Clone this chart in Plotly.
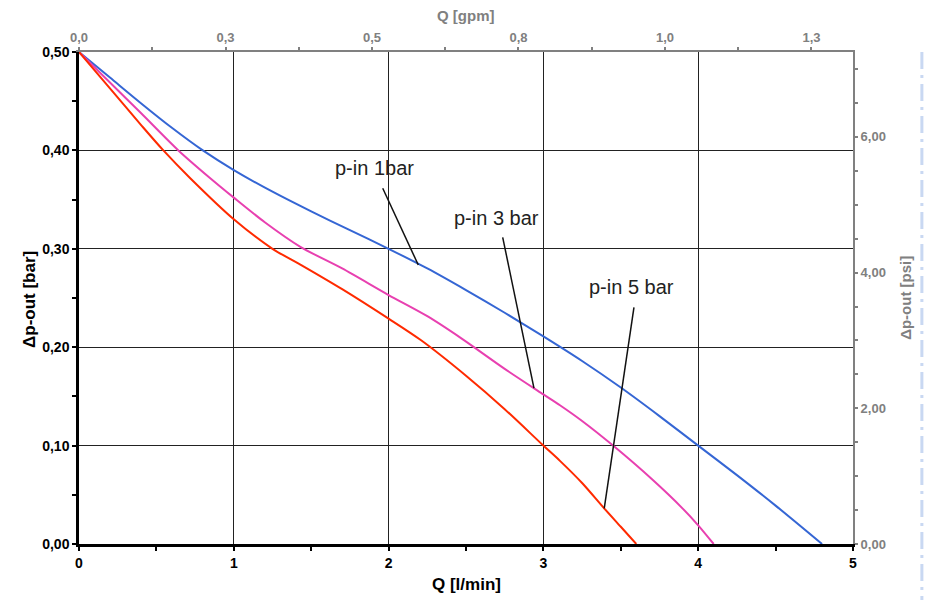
import plotly.graph_objects as go

# ---- data (Q in l/min, delta p in bar) ----
Q_1bar = [0, 0.2, 0.4, 0.6, 0.8, 1.0, 1.25, 1.5, 1.75, 2.0, 2.25, 2.5, 2.75, 3.0, 3.25, 3.5, 3.75, 4.0, 4.25, 4.5, 4.8]
dp_1bar = [0.5, 0.474, 0.448, 0.423, 0.400, 0.380, 0.358, 0.338, 0.319, 0.300, 0.280, 0.258, 0.235, 0.211, 0.186, 0.159, 0.130, 0.100, 0.070, 0.039, 0.0]

Q_3bar = [0, 0.2, 0.4, 0.642, 0.846, 1.0, 1.2, 1.43, 1.7, 2.0, 2.25, 2.47, 2.75, 3.0, 3.107, 3.25, 3.45, 3.7, 3.9, 4.0, 4.1]
dp_3bar = [0.5, 0.469, 0.438, 0.40, 0.372, 0.352, 0.327, 0.302, 0.280, 0.253, 0.2315, 0.209, 0.178, 0.152, 0.141, 0.125, 0.100, 0.066, 0.036, 0.019, 0.0]

Q_5bar = [0, 0.2, 0.4, 0.545, 0.717, 1.0, 1.25, 1.43, 1.7, 2.0, 2.21, 2.5, 2.75, 3.0, 3.107, 3.25, 3.394, 3.5, 3.6]
dp_5bar = [0.5, 0.463, 0.426, 0.40, 0.372, 0.330, 0.300, 0.284, 0.259, 0.229, 0.207, 0.171, 0.137, 0.100, 0.0845, 0.062, 0.036, 0.0175, 0.0]

series_names = ["p-in 1bar", "p-in 3 bar", "p-in 5 bar"]
series_colors = ["#3566d4", "#e840b0", "#ff2a00"]

# label text positions and leader-line endpoints (data units)
label_x = [1.906, 2.700, 3.566]
label_y = [0.382, 0.331, 0.261]
leader_x0 = [1.962, 2.737, 3.585]
leader_y0 = [0.3615, 0.3117, 0.2405]
leader_x1 = [2.192, 2.939, 3.393]
leader_y1 = [0.2835, 0.1585, 0.0363]

# ---- axes ticks ----
LPM_PER_GPM = 3.78541
PSI_PER_BAR = 14.5038

x_tickvals = [0, 1, 2, 3, 4, 5]
x_ticktext = ["0", "1", "2", "3", "4", "5"]
x_minor = [0.5, 1.5, 2.5, 3.5, 4.5]
y_tickvals = [0, 0.1, 0.2, 0.3, 0.4, 0.5]
y_ticktext = ["0,00", "0,10", "0,20", "0,30", "0,40", "0,50"]
y_minor = [0.05, 0.15, 0.25, 0.35, 0.45]
gpm_tickvals = [0, 0.25, 0.5, 0.75, 1.0, 1.25]
gpm_ticktext = ["0,0", "0,3", "0,5", "0,8", "1,0", "1,3"]
gpm_minor = [0.125, 0.375, 0.625, 0.875, 1.125]
psi_tickvals = [0, 2, 4, 6]
psi_ticktext = ["0,00", "2,00", "4,00", "6,00"]
psi_minor = [0.5, 1, 1.5, 2.5, 3, 3.5, 4.5, 5, 5.5, 6.5, 7]

FONT = "Liberation Sans, Arial, sans-serif"
GRAY = "#808080"

fig = go.Figure()
all_Q = [Q_1bar, Q_3bar, Q_5bar]
all_dp = [dp_1bar, dp_3bar, dp_5bar]
for q, d, name, col in zip(all_Q, all_dp, series_names, series_colors):
    fig.add_trace(go.Scatter(x=q, y=d, name=name, mode="lines",
                             line=dict(color=col, width=2, shape="spline", smoothing=0.8),
                             hoverinfo="skip", showlegend=False))

# helper trace to carry secondary (gpm / psi) axes
fig.add_trace(go.Scatter(x=[v / LPM_PER_GPM for v in Q_1bar],
                         y=[v * PSI_PER_BAR for v in dp_1bar],
                         xaxis="x2", yaxis="y2", mode="lines",
                         line=dict(width=0, color="rgba(0,0,0,0)"),
                         hoverinfo="skip", showlegend=False))

shapes = []
for x0, y0, x1, y1 in zip(leader_x0, leader_y0, leader_x1, leader_y1):
    shapes.append(dict(type="line", xref="x", yref="y", x0=x0, y0=y0, x1=x1, y1=y1,
                       line=dict(color="#111111", width=1.5)))
# page decoration: light dash-dot line at right edge
shapes.append(dict(type="line", xref="paper", yref="paper", x0=1.089, x1=1.089, y0=1.0, y1=-0.13,
                   line=dict(color="#c9d8f2", width=3, dash="17px,6px,3px,6px")))

annotations = []
for tx, ty, name in zip(label_x, label_y, series_names):
    annotations.append(dict(x=tx, y=ty, xref="x", yref="y", text=name, showarrow=False,
                            xanchor="center", yanchor="middle",
                            font=dict(family=FONT, size=20, color="#222222")))
annotations += [
    dict(x=0.5, y=-0.083, xref="paper", yref="paper", text="Q [l/min]", showarrow=False,
         xanchor="center", yanchor="middle",
         font=dict(family=FONT, size=17, color="black", weight="bold")),
    dict(x=0.5, y=1.075, xref="paper", yref="paper", text="Q [gpm]", showarrow=False,
         xanchor="center", yanchor="middle",
         font=dict(family=FONT, size=15, color=GRAY, weight="bold")),
    dict(x=-0.0633, y=0.496, xref="paper", yref="paper", text="Δp-out [bar]", showarrow=False,
         xanchor="center", yanchor="middle",
         textangle=-90, font=dict(family=FONT, size=17, color="black", weight="bold")),
    dict(x=1.067, y=0.5, xref="paper", yref="paper", text="Δp-out [psi]", showarrow=False,
         xanchor="center", yanchor="middle",
         textangle=-90, font=dict(family=FONT, size=15, color=GRAY, weight="bold")),
]

fig.update_layout(
    width=927, height=600,
    margin=dict(l=79, r=74, t=52, b=56),
    paper_bgcolor="white", plot_bgcolor="white",
    showlegend=False,
    font=dict(family=FONT),
    shapes=shapes,
    annotations=annotations,
    xaxis=dict(range=[0, 5], tickvals=x_tickvals, ticktext=x_ticktext,
               showline=True, linecolor="black", linewidth=2.5,
               ticks="outside", ticklen=4, tickwidth=2, tickcolor="black",
               minor=dict(tickvals=x_minor, ticks="outside", ticklen=4, tickwidth=2,
                          tickcolor="black", showgrid=False),
               showgrid=True, gridcolor="#222222", gridwidth=1, zeroline=False,
               tickfont=dict(family=FONT, size=14, color="black", weight="bold")),
    yaxis=dict(range=[0, 0.5], tickvals=y_tickvals, ticktext=y_ticktext,
               showline=True, linecolor="black", linewidth=2.5,
               ticks="outside", ticklen=4, tickwidth=2, tickcolor="black",
               minor=dict(tickvals=y_minor, ticks="outside", ticklen=4, tickwidth=2,
                          tickcolor="black", showgrid=False),
               showgrid=True, gridcolor="#222222", gridwidth=1, zeroline=False,
               tickfont=dict(family=FONT, size=14, color="black", weight="bold")),
    xaxis2=dict(overlaying="x", side="top", anchor="y", range=[0, 5 / LPM_PER_GPM],
                tickvals=gpm_tickvals, ticktext=gpm_ticktext,
                showline=True, linecolor=GRAY, linewidth=2,
                ticks="outside", ticklen=3, tickwidth=2, tickcolor=GRAY,
                minor=dict(tickvals=gpm_minor, ticks="outside", ticklen=3, tickwidth=2,
                           tickcolor=GRAY, showgrid=False),
                showgrid=False, zeroline=False,
                tickfont=dict(family=FONT, size=13, color=GRAY, weight="bold")),
    yaxis2=dict(overlaying="y", side="right", anchor="x", range=[0, 0.5 * PSI_PER_BAR],
                tickvals=psi_tickvals, ticktext=psi_ticktext,
                showline=True, linecolor=GRAY, linewidth=2,
                ticks="outside", ticklen=3, tickwidth=2, tickcolor=GRAY,
                minor=dict(tickvals=psi_minor, ticks="outside", ticklen=3, tickwidth=2,
                           tickcolor=GRAY, showgrid=False),
                showgrid=False, zeroline=False,
                tickfont=dict(family=FONT, size=13, color=GRAY, weight="bold")),
)

fig.write_html("out.html",
               config={"displayModeBar": False},
               post_script="document.body.style.margin='0';document.body.style.overflow='hidden';")
